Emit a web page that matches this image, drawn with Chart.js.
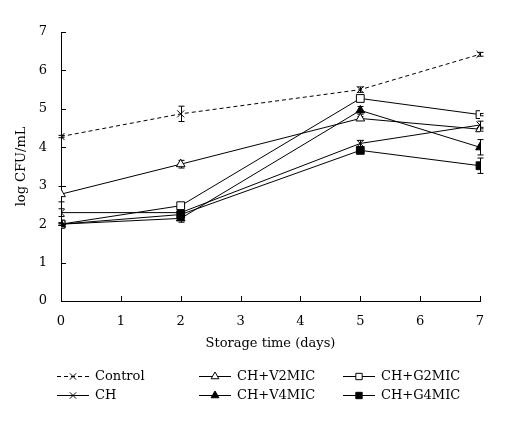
<!DOCTYPE html>
<html>
<head>
<meta charset="utf-8">
<script src="https://cdn.jsdelivr.net/npm/chart.js@4.4.0/dist/chart.umd.min.js"></script>
<style>
  html, body { margin: 0; padding: 0; background: #fff; }
  #wrap { width: 516px; height: 430px; }
</style>
</head>
<body>
<div id="wrap"><canvas id="growthChart" width="516" height="430"></canvas></div>
<script>
// Storage days and log CFU/mL values
const days = [0, 2, 5, 7];
const seriesNames = ['Control', 'CH', 'CH+V2MIC', 'CH+V4MIC', 'CH+G2MIC', 'CH+G4MIC'];
const controlVals = [4.28, 4.87, 5.50, 6.42];
const chVals = [2.30, 2.30, 4.10, 4.58];
const v2Vals = [2.78, 3.56, 4.75, 4.47];
const v4Vals = [2.00, 2.15, 4.96, 4.00];
const g2Vals = [2.00, 2.48, 5.27, 4.85];
const g4Vals = [2.00, 2.25, 3.92, 3.52];

// error bar half-widths (SD)
const controlErr = [0.03, 0.20, 0.07, 0.05];
const chErr = [0.10, 0.05, 0.08, 0.10];
const v2Err = [0.20, 0.10, 0.05, 0.05];
const v4Err = [0.03, 0.10, 0.10, 0.20];
const g2Err = [0.03, 0.05, 0.05, 0.03];
const g4Err = [0.03, 0.05, 0.05, 0.20];

const xTicks = [0, 1, 2, 3, 4, 5, 6, 7];
const yTicks = [0, 1, 2, 3, 4, 5, 6, 7];

const FONT = "'DejaVu Serif', 'Liberation Serif', serif";

function toPoints(vals) {
    return days.map((d, i) => ({ x: d, y: vals[i] }));
}

function makeSet(label, vals, errs, style, filled, dashed, radius) {
    return {
        label: label,
        data: toPoints(vals),
        errors: errs,
        borderColor: '#000',
        borderWidth: 1,
        borderDash: dashed ? [4, 3] : [],
        pointStyle: style,
        pointRadius: radius,
        pointBorderWidth: 1,
        pointBorderColor: '#000',
        pointBackgroundColor: filled ? '#000' : '#fff',
        fill: false,
        tension: 0
    };
}

const datasets = [
    makeSet(seriesNames[0], controlVals, controlErr, 'crossRot', false, true, 5),
    makeSet(seriesNames[1], chVals, chErr, 'crossRot', false, false, 5),
    makeSet(seriesNames[2], v2Vals, v2Err, 'triangle', false, false, 5),
    makeSet(seriesNames[3], v4Vals, v4Err, 'triangle', true, false, 5),
    makeSet(seriesNames[4], g2Vals, g2Err, 'rect', false, false, 5.5),
    makeSet(seriesNames[5], g4Vals, g4Err, 'rect', true, false, 5.5)
];

// vertical error bars with small caps
const errorBars = {
    id: 'errorBars',
    beforeDatasetsDraw(chart) {
        const { ctx, scales: { x, y } } = chart;
        ctx.save();
        ctx.strokeStyle = '#000';
        ctx.lineWidth = 1;
        chart.data.datasets.forEach(ds => {
            ds.data.forEach((p, i) => {
                const e = ds.errors[i];
                const px = Math.round(x.getPixelForValue(p.x)) + 0.5;
                const top = y.getPixelForValue(p.y + e);
                const bot = y.getPixelForValue(p.y - e);
                ctx.beginPath();
                ctx.moveTo(px, top);
                ctx.lineTo(px, bot);
                ctx.moveTo(px - 3, top);
                ctx.lineTo(px + 3, top);
                ctx.moveTo(px - 3, bot);
                ctx.lineTo(px + 3, bot);
                ctx.stroke();
            });
        });
        ctx.restore();
    }
};

// inward tick marks on both axes
const innerTicks = {
    id: 'innerTicks',
    afterDraw(chart) {
        const { ctx, chartArea: a, scales: { x, y } } = chart;
        ctx.save();
        ctx.strokeStyle = '#000';
        ctx.lineWidth = 1;
        ctx.beginPath();
        xTicks.forEach(t => {
            const px = Math.round(x.getPixelForValue(t)) + 0.5;
            ctx.moveTo(px, a.bottom);
            ctx.lineTo(px, a.bottom - 5);
        });
        yTicks.forEach(t => {
            const py = Math.round(y.getPixelForValue(t)) + 0.5;
            ctx.moveTo(a.left, py);
            ctx.lineTo(a.left + 5, py);
        });
        ctx.stroke();
        ctx.restore();
    }
};

// two-row legend under the axis title
const legendSlots = [
    { col: 0, row: 0 }, { col: 0, row: 1 },
    { col: 1, row: 0 }, { col: 1, row: 1 },
    { col: 2, row: 0 }, { col: 2, row: 1 }
];
const legendCols = [57, 199, 343];
const legendRows = [376, 395];

const bottomLegend = {
    id: 'bottomLegend',
    afterDraw(chart) {
        const ctx = chart.ctx;
        ctx.save();
        ctx.font = '13px ' + FONT;
        ctx.fillStyle = '#000';
        ctx.textBaseline = 'middle';
        chart.data.datasets.forEach((ds, i) => {
            const slot = legendSlots[i];
            const x0 = legendCols[slot.col];
            const yy = legendRows[slot.row] + 0.5;
            ctx.strokeStyle = '#000';
            ctx.lineWidth = 1;
            ctx.setLineDash(ds.borderDash);
            ctx.beginPath();
            ctx.moveTo(x0, yy);
            ctx.lineTo(x0 + 32, yy);
            ctx.stroke();
            ctx.setLineDash([]);
            ctx.fillStyle = ds.pointBackgroundColor;
            Chart.helpers.drawPoint(ctx, {
                pointStyle: ds.pointStyle,
                radius: ds.pointStyle === 'rect' ? 4.5 : 4.5,
                rotation: 0,
                borderWidth: 1
            }, x0 + 16, yy);
            ctx.fillStyle = '#000';
            ctx.fillText(ds.label, x0 + 38, yy);
        });
        ctx.restore();
    }
};

const ctx = document.getElementById('growthChart');
new Chart(ctx, {
    type: 'line',
    data: { datasets: datasets },
    options: {
        responsive: false,
        animation: false,
        layout: { padding: { left: 0, right: 36, top: 32, bottom: 79 } },
        plugins: {
            legend: { display: false },
            tooltip: { enabled: false }
        },
        scales: {
            x: {
                type: 'linear',
                min: 0,
                max: 7,
                afterFit: s => { s.height = 50; },
                grid: { display: false, drawTicks: false },
                border: { display: true, color: '#000', width: 1 },
                ticks: {
                    stepSize: 1,
                    padding: 13,
                    color: '#000',
                    font: { family: FONT, size: 13 }
                },
                title: {
                    display: true,
                    text: 'Storage time (days)',
                    color: '#000',
                    padding: { top: 0, bottom: 0 },
                    font: { family: FONT, size: 13 }
                }
            },
            y: {
                min: 0,
                max: 7,
                afterFit: s => { s.width = 61; },
                grid: { display: false, drawTicks: false },
                border: { display: true, color: '#000', width: 1 },
                ticks: {
                    stepSize: 1,
                    padding: 14,
                    color: '#000',
                    font: { family: FONT, size: 13 }
                },
                title: {
                    display: true,
                    text: 'log CFU/mL',
                    color: '#000',
                    padding: { top: 14, bottom: 0 },
                    font: { family: FONT, size: 13 }
                }
            }
        }
    },
    plugins: [errorBars, innerTicks, bottomLegend]
});
</script>
</body>
</html>
